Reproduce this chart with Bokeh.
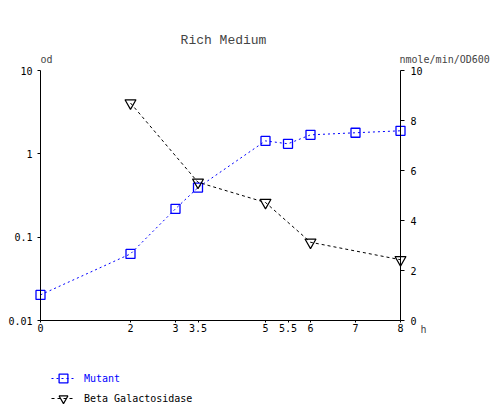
from bokeh.plotting import figure
from bokeh.models import (Range1d, LinearAxis, LinearScale, FixedTicker, CustomJSTickFormatter,
                          Label, Legend, LegendItem)
from bokeh.embed import file_html
from bokeh.resources import INLINE

# ---- data ----
hours_mutant = [0, 2, 3, 3.5, 5, 5.5, 6, 7, 8]
od_mutant = [0.0203, 0.063, 0.219, 0.394, 1.43, 1.32, 1.69, 1.79, 1.89]
hours_beta = [2, 3.5, 5, 6, 8]
beta_gal = [8.7, 5.53, 4.72, 3.13, 2.43]
x_ticks = [0, 2, 3, 3.5, 5, 5.5, 6, 7, 8]
od_ticks = [0.01, 0.1, 1, 10]
right_ticks = [0, 2, 4, 6, 8, 10]

FONT = "DejaVu Sans Mono"
BLUE = "#0000ff"

# ---- layout (pixels) ----
W, H = 490, 405
PL, PR, PT, PB = 40, 400, 70, 320      # plotting box inside the canvas
X0, X1 = 0, 8
LOG0, LOG1 = -2, 1
R0, R1 = 0, 10

xpp = (X1 - X0) / (PR - PL)
x_range = Range1d(X0 - PL * xpp, X1 + (W - PR) * xpp)
dpp = (LOG1 - LOG0) / (PB - PT)
y_range = Range1d(10 ** (LOG0 - (H - PB) * dpp), 10 ** (LOG1 + PT * dpp))
rpp = (R1 - R0) / (PB - PT)
right_range = Range1d(R0 - (H - PB) * rpp, R1 + PT * rpp)

p = figure(width=W, height=H, output_backend="svg", toolbar_location=None,
           x_range=x_range, y_range=y_range, y_axis_type="log",
           min_border=0, min_border_left=0, min_border_right=0,
           min_border_top=0, min_border_bottom=0, title=None)
p.outline_line_color = None
p.xgrid.visible = False
p.ygrid.visible = False
p.background_fill_color = "white"
p.border_fill_color = "white"

p.extra_y_ranges = {"right": right_range}
p.extra_y_scales = {"right": LinearScale()}
right_axis = LinearAxis(y_range_name="right")
p.add_layout(right_axis, "right")

xa = p.xaxis[0]
xa.ticker = FixedTicker(ticks=x_ticks)
xa.formatter = CustomJSTickFormatter(code="return tick.toString();")
xa.fixed_location = 10 ** LOG0
xa.bounds = (X0, X1)
xa.major_tick_out = 2
xa.major_tick_in = 0
xa.minor_tick_out = 0
xa.major_label_standoff = 1

ya = p.yaxis[0]
ya.ticker = FixedTicker(ticks=od_ticks, minor_ticks=[])
ya.formatter = CustomJSTickFormatter(code="return tick.toString();")
ya.fixed_location = X0
ya.bounds = (10 ** LOG0, 10 ** LOG1)
ya.major_tick_out = 3
ya.major_tick_in = 0
ya.minor_tick_out = 0
ya.minor_tick_in = 0
ya.major_label_standoff = 5

right_axis.ticker = FixedTicker(ticks=right_ticks)
right_axis.fixed_location = X1
right_axis.bounds = (R0, R1)
right_axis.major_tick_out = 4
right_axis.major_tick_in = 0
right_axis.minor_tick_out = 0
right_axis.major_label_standoff = 6

for ax in (xa, ya, right_axis):
    ax.axis_line_color = "black"
    ax.axis_line_width = 1
    ax.major_tick_line_color = "black"
    ax.major_label_text_font = FONT
    ax.major_label_text_font_size = "10px"
    ax.major_label_text_color = "black"

# ---- series ----
lm = p.line(hours_mutant, od_mutant, line_color=BLUE, line_dash="2 3", line_width=1)
sm = p.scatter(hours_mutant, od_mutant, marker="square", size=9, line_color=BLUE,
               fill_alpha=0, line_width=1.3)
lb = p.line(hours_beta, beta_gal, line_color="black", line_dash="3 3", line_width=1,
            y_range_name="right")
sb = p.scatter(hours_beta, beta_gal, marker="inverted_triangle", size=11,
               line_color="black", fill_alpha=0, line_width=1.2, y_range_name="right")

# ---- texts (screen units: from bottom-left of the canvas) ----
def add_text(text, x, y_top, size="10px", font=FONT, align="left"):
    p.add_layout(Label(x=x, y=H - y_top, x_units="screen", y_units="screen", text=text,
                       text_font=font, text_font_size=size, text_align=align,
                       text_baseline="middle"))

add_text("Rich Medium", 223, 40, size="13px", font="Liberation Mono", align="center")
add_text("od", 40, 58.5)
add_text("nmole/min/OD600", 399, 58.5)
add_text("h", 420, 328.5)

# ---- legends ----
def make_legend(label, rends, color, center_y):
    lg = Legend(items=[LegendItem(label=label, renderers=rends)],
                location=(51, H - (center_y + 11)),
                orientation="vertical", padding=0, margin=0, spacing=0,
                border_line_color=None, background_fill_alpha=0,
                glyph_width=24, glyph_height=22, label_height=22, label_standoff=9,
                label_text_font=FONT, label_text_font_size="10px",
                label_text_color=color, label_text_baseline="middle")
    p.add_layout(lg, "center")

make_legend("Mutant", [lm, sm], BLUE, 378)
make_legend("Beta Galactosidase", [lb, sb], "black", 398)

open("out.html", "w").write(file_html(p, INLINE))
